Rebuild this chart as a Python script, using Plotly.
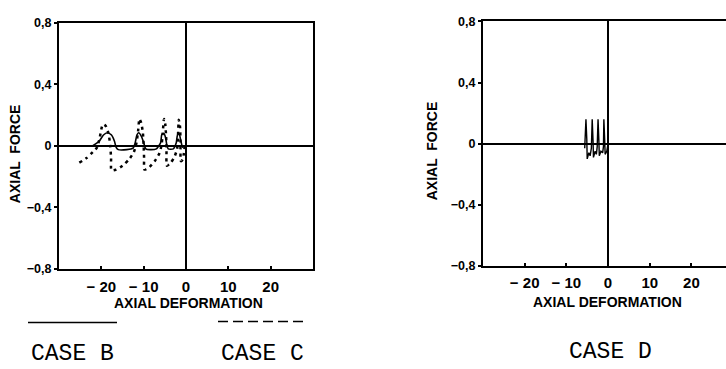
import plotly.graph_objects as go

# Axial force vs axial deformation, cyclic response
# CASE B (solid) and CASE C (dotted) share the left panel; CASE D on the right.
case_b_x = [-22.0, -20.5, -19.5, -18.6, -17.6, -16.9, -16.5, -16.0, -14.0, -12.5, -12.0,
            -11.6, -11.2, -10.5, -10.0, -9.5, -8.5, -7.0, -6.0, -5.7, -5.2, -4.8, -4.5,
            -4.2, -3.0, -2.3, -2.0, -1.6, -1.2, -0.8, -0.3]
case_b_y = [0.0, 0.03, 0.07, 0.085, 0.07, 0.03, -0.01, -0.025, -0.025, -0.015, 0.02,
            0.07, 0.085, 0.06, 0.02, -0.02, -0.025, -0.02, 0.02, 0.075, 0.08, 0.05, 0.0,
            -0.02, -0.02, 0.02, 0.07, 0.075, 0.03, -0.01, 0.0]

case_c_x = [-25.2, -23.5, -22.0, -21.0, -20.4, -19.9, -19.6, -19.0, -18.3, -17.9, -17.7, -17.6,
            -16.5, -15.0, -13.5, -12.3, -11.7, -11.3, -11.0, -10.6, -10.2, -10.0, -9.9, -9.8,
            -8.7, -7.4, -6.3, -5.8, -5.5, -5.2, -4.9, -4.7, -4.6, -4.5,
            -3.6, -2.7, -2.1, -1.9, -1.7, -1.4, -1.3, -1.2,
            -0.8, -0.5, -0.3]
case_c_y = [-0.11, -0.08, -0.04, -0.01, 0.05, 0.12, 0.14, 0.13, 0.08, 0.0, -0.08, -0.16,
            -0.155, -0.13, -0.09, -0.04, 0.02, 0.10, 0.175, 0.15, 0.09, 0.0, -0.08, -0.155,
            -0.14, -0.10, -0.05, 0.0, 0.08, 0.175, 0.14, 0.06, -0.02, -0.13,
            -0.11, -0.07, -0.02, 0.06, 0.17, 0.12, 0.02, -0.10,
            -0.09, -0.05, 0.0]

case_d_x = [-5.6, -5.3, -5.1, -5.0, -4.6, -4.3, -4.0, -3.8, -3.6, -3.5, -3.1, -2.8, -2.6,
            -2.4, -2.2, -2.1, -1.7, -1.3, -1.1, -1.0, -0.8, -0.7, -0.3, 0.0]
case_d_y = [-0.03, 0.16, 0.03, -0.10, -0.06, -0.08, -0.03, 0.16, 0.02, -0.09, -0.05, -0.07,
            -0.02, 0.16, 0.02, -0.08, -0.05, -0.06, -0.02, 0.16, 0.02, -0.07, -0.05, 0.0]

x_ticks = [-20, -10, 0, 10, 20]
x_tick_text = ["\u2212 20", "\u2212 10", "0", "10", "20"]
y_ticks = [-0.8, -0.4, 0, 0.4, 0.8]
y_tick_text = ["\u22120,8", "\u22120,4", "0", "0,4", "0,8"]

W, H = 726, 369
SANS = "Liberation Sans, Arial, sans-serif"
XTICK = dict(family=SANS, size=15, color="black", weight="bold")
YTICK = dict(family=SANS, size=12.5, color="black", weight="bold")
TITLE = dict(family=SANS, size=14, color="black", weight="bold")
MONO = dict(family="Liberation Mono, DejaVu Sans Mono, monospace", size=23, color="black")


def px_x(p):
    return p / W


def px_y(p):
    return 1 - p / H


fig = go.Figure()

fig.add_trace(go.Scatter(x=case_b_x, y=case_b_y, mode="lines", xaxis="x", yaxis="y",
                         line=dict(color="black", width=1.6, shape="spline", smoothing=0.6),
                         showlegend=False))
fig.add_trace(go.Scatter(x=case_c_x, y=case_c_y, mode="lines", xaxis="x", yaxis="y",
                         line=dict(color="black", width=2.5, dash="3px,4px", shape="spline",
                                   smoothing=0.6),
                         showlegend=False))
fig.add_trace(go.Scatter(x=case_d_x, y=case_d_y, mode="lines", xaxis="x2", yaxis="y2",
                         line=dict(color="black", width=1.4),
                         showlegend=False))

axis_common = dict(showgrid=False, zeroline=True, zerolinecolor="black", zerolinewidth=2,
                   showline=True, linecolor="black", linewidth=2,
                   ticklen=3, tickwidth=1.5, tickcolor="black", fixedrange=True)

fig.update_layout(
    width=W, height=H, margin=dict(l=0, r=0, t=0, b=0),
    paper_bgcolor="white", plot_bgcolor="white",
    xaxis=dict(domain=[px_x(59), px_x(313)], range=[-30, 30], anchor="y",
               tickvals=x_ticks, ticktext=x_tick_text, ticks="inside", mirror=True,
               tickfont=XTICK, ticklabelstandoff=3, **axis_common),
    yaxis=dict(domain=[px_y(272), px_y(16.5)], range=[-0.8, 0.8], anchor="x",
               tickvals=y_ticks, ticktext=y_tick_text, ticks="outside", mirror=True,
               tickfont=YTICK, **axis_common),
    xaxis2=dict(domain=[px_x(483), 1.0], range=[-30, 28.3], anchor="y2",
                tickvals=x_ticks, ticktext=x_tick_text, ticks="inside", mirror=True,
                tickfont=XTICK, ticklabelstandoff=2, **axis_common),
    yaxis2=dict(domain=[px_y(269), px_y(15)], range=[-0.8, 0.8], anchor="x2",
                tickvals=y_ticks, ticktext=y_tick_text, ticks="outside", mirror=False,
                tickfont=YTICK, **axis_common),
)

annotations = [
    dict(text="AXIAL  FORCE", x=px_x(15), y=px_y(153), textangle=-90, font=TITLE),
    dict(text="AXIAL DEFORMATION", x=px_x(188), y=px_y(308), font=TITLE),
    dict(text="AXIAL  FORCE", x=px_x(432), y=px_y(150), textangle=-90, font=TITLE),
    dict(text="AXIAL DEFORMATION", x=px_x(607), y=px_y(307), font=TITLE),
    dict(text="CASE B", x=px_x(72), y=px_y(361), font=MONO),
    dict(text="CASE C", x=px_x(262), y=px_y(361), font=MONO),
    dict(text="CASE D", x=px_x(610), y=px_y(359), font=MONO),
]
for a in annotations:
    fig.add_annotation(xref="paper", yref="paper", showarrow=False,
                       xanchor="center", yanchor="middle", **a)

# legend line samples above the case captions
fig.add_shape(type="line", xref="paper", yref="paper",
              x0=px_x(28), x1=px_x(117), y0=px_y(328), y1=px_y(328),
              line=dict(color="black", width=1.5))
fig.add_shape(type="line", xref="paper", yref="paper",
              x0=px_x(218), x1=px_x(308), y0=px_y(327), y1=px_y(327),
              line=dict(color="black", width=1.5, dash="10px,5px"))

fig.write_html("out.html")
